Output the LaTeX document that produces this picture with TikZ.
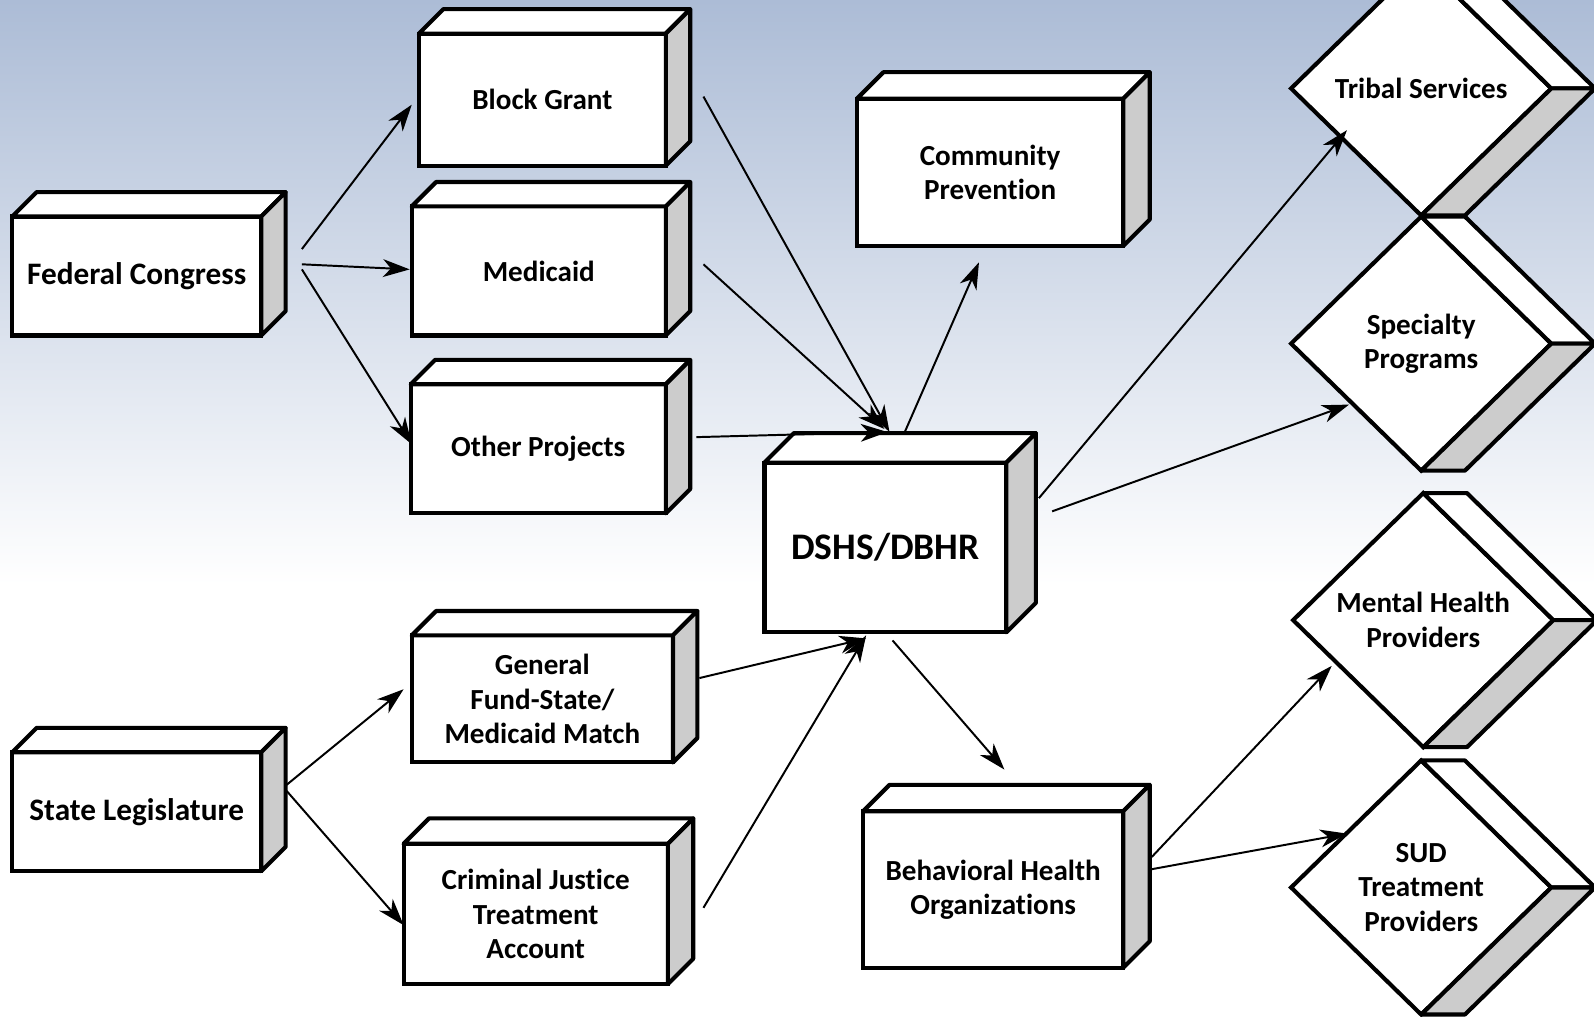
\documentclass[tikz,border=0pt]{standalone}
\usepackage{fontspec}
\setmainfont[Ligatures={NoCommon}]{Carlito}
\usetikzlibrary{shapes.geometric, arrows.meta, calc}
\definecolor{skytop}{RGB}{172,188,214}
\definecolor{sidegray}{RGB}{204,204,204}

\begin{document}
\begin{tikzpicture}[x=0.02cm, y=-0.02cm]
        \tikzstyle{cube} = [rectangle, draw=black, line width=2.3pt, fill=white, outer sep=0pt, inner sep=0pt, text centered, align=center, font=\bfseries\fontsize{16.3}{19.3}\selectfont]
        \tikzstyle{gem} = [diamond, aspect=1, draw=black, line width=2.3pt, fill=white, outer sep=0pt, inner sep=0pt, minimum width=5.12cm, minimum height=5cm, text centered, align=center, font=\bfseries\fontsize{16.3}{19.3}\selectfont]
        \tikzstyle{face} = [draw=black, line width=2.3pt, line join=round]
        \tikzstyle{arrow} = [line width=1.1pt, -{Stealth[length=15pt, width=10pt, inset=4.5pt]}]

        % background
        \useasboundingbox (0,0) rectangle (1568,1000);
        \clip (0,0) rectangle (1568,1000);
        \shade [top color=skytop, bottom color=white] (0,0) rectangle (1568,575);
        \fill [white] (0,574) rectangle (1568,1000);

        % boxes
        \node (fed) [cube, minimum width=4.9cm, minimum height=2.34cm, font=\bfseries\fontsize{17.5}{20}\selectfont] at (134.5,271.5) {Federal Congress};
        \node (block) [cube, minimum width=4.86cm, minimum height=2.6cm] at (533.5,98) {Block Grant};
        \node (med) [cube, minimum width=5.0cm, minimum height=2.54cm] at (530,266.5) {Medicaid};
        \node (other) [cube, minimum width=5.02cm, minimum height=2.54cm] at (529.5,441.5) {Other Projects};
        \node (comm) [cube, minimum width=5.24cm, minimum height=2.9cm] at (974,169.5) {Community\\Prevention};
        \node (dshs) [cube, minimum width=4.76cm, minimum height=3.34cm, font=\bfseries\fontsize{21}{24}\selectfont] at (871,538.5) {DSHS/DBHR};
        \node (gf) [cube, minimum width=5.14cm, minimum height=2.5cm] at (533.5,687.5) {General\\Fund-State/\\Medicaid Match};
        \node (cj) [cube, minimum width=5.2cm, minimum height=2.76cm] at (527,899) {Criminal Justice\\Treatment\\Account};
        \node (sl) [cube, minimum width=4.9cm, minimum height=2.34cm, font=\bfseries\fontsize{17.5}{20}\selectfont] at (134.5,798.5) {State Legislature};
        \node (bho) [cube, minimum width=5.12cm, minimum height=3.08cm] at (977,875) {Behavioral Health\\Organizations};

        \foreach \n/\d in {fed/24, block/24, med/24, other/24, comm/26, dshs/29, gf/24, cj/25, sl/24, bho/26} {
            \filldraw [face, fill=white] (\n.north west) -- ++(\d,-\d) -- ($(\n.north east)+(\d,-\d)$) -- (\n.north east) -- cycle;
            \filldraw [face, fill=sidegray] (\n.north east) -- ++(\d,-\d) -- ($(\n.south east)+(\d,-\d)$) -- (\n.south east) -- cycle;
        }

        % diamonds
        \node (tribal) [gem] at (1398,87) {Tribal Services};
        \node (spec) [gem] at (1398,338) {Specialty\\Programs};
        \node (mh) [gem] at (1400,610) {Mental Health\\Providers};
        \node (sud) [gem] at (1398,873) {SUD\\Treatment\\Providers};

        \foreach \n in {tribal, spec, mh, sud} {
            \filldraw [face, fill=white] (\n.north) -- ++(43,0) -- ($(\n.east)+(43,0)$) -- (\n.east) -- cycle;
            \filldraw [face, fill=sidegray] (\n.east) -- ++(43,0) -- ($(\n.south)+(43,0)$) -- (\n.south) -- cycle;
        }

        % funding flows
        \draw [arrow] ($(fed.east)+(40,-26.5)$) -- ($(block.west)+(-7,5)$);
        \draw [arrow] ($(fed.east)+(40,-11.5)$) -- ($(med.west)+(-2,-1.5)$);
        \draw [arrow] ($(fed.east)+(40,-6.5)$) -- ($(other.west)+(1,-4.5)$);
        \draw [arrow] ($(block.east)+(37,-3)$) -- ($(dshs.north)+(4,-30)$);
        \draw [arrow] ($(med.east)+(37,-6.5)$) -- ($(dshs.north)+(-1,-33)$);
        \draw [arrow] ($(other.east)+(30,-11.5)$) -- ($(dshs.north)+(2,-30)$);
        \draw [arrow] ($(dshs.north)+(19,-30)$) -- ($(comm.south)+(-11,16)$);
        \draw [arrow] ($(dshs.east)+(32,-48.5)$) -- ($(tribal.center)+(-73,41)$);
        \draw [arrow] ($(dshs.east)+(45,-35.5)$) -- ($(spec.center)+(-71,60)$);
        \draw [arrow] ($(dshs.south)+(7,8)$) -- ($(bho.north)+(11,-41)$);
        \draw [arrow] ($(sl.east)+(25,-26.5)$) -- ($(gf.west)+(-8,-9.5)$);
        \draw [arrow] ($(sl.east)+(25,-20.5)$) -- ($(cj.west)+(0,11)$);
        \draw [arrow] ($(gf.east)+(26,-20.5)$) -- ($(dshs.south)+(-19,6)$);
        \draw [arrow] ($(cj.east)+(35,-6)$) -- ($(dshs.south)+(-19,3)$);
        \draw [arrow] ($(bho.east)+(28,-32)$) -- ($(mh.center)+(-90,45)$);
        \draw [arrow] ($(bho.east)+(28,-20)$) -- ($(sud.center)+(-73,-53)$);
    \end{tikzpicture}
\end{document}
